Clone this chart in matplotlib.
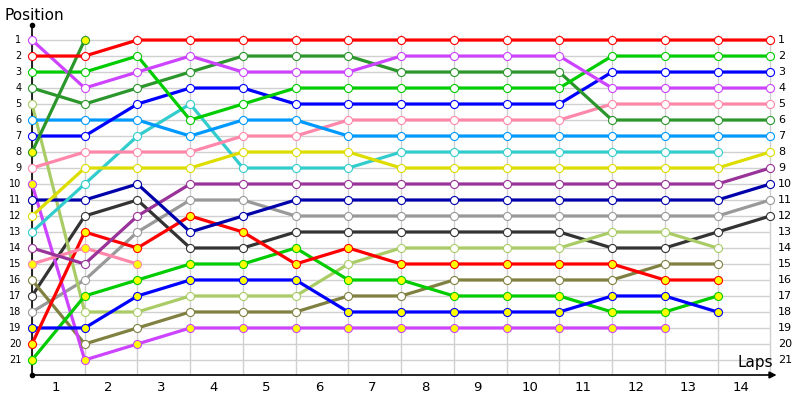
import matplotlib
matplotlib.use("Agg")
import matplotlib.pyplot as plt

# lap index 0 = grid, then laps 1..14
laps = list(range(15))
lap_labels = [str(k) for k in range(1, 15)]
positions = list(range(1, 22))

# positions per driver line (shorter lists = retired / lapped)
red1 = [2, 2, 1, 1, 1, 1, 1, 1, 1, 1, 1, 1, 1, 1, 1]
purple1 = [1, 4, 3, 2, 3, 3, 3, 2, 2, 2, 2, 4, 4, 4, 4]
green1 = [3, 3, 2, 6, 5, 4, 4, 4, 4, 4, 4, 2, 2, 2, 2]
dgreen1 = [4, 5, 4, 3, 2, 2, 2, 3, 3, 3, 3, 6, 6, 6, 6]
lolive = [5, 18, 18, 17, 17, 17, 15, 14, 14, 14, 14, 13, 13, 14]
lblue = [6, 6, 6, 7, 6, 6, 7, 7, 7, 7, 7, 7, 7, 7, 7]
blue1 = [7, 7, 5, 4, 4, 5, 5, 5, 5, 5, 5, 3, 3, 3, 3]
dgreen2 = [8, 1]
pink1 = [9, 8, 8, 8, 7, 7, 6, 6, 6, 6, 6, 5, 5, 5, 5]
purple2 = [10, 21, 20, 19, 19, 19, 19, 19, 19, 19, 19, 19, 19]
navy = [11, 11, 10, 13, 12, 11, 11, 11, 11, 11, 11, 11, 11, 11, 10]
yellow = [12, 9, 9, 9, 8, 8, 8, 9, 9, 9, 9, 9, 9, 9, 8]
cyan = [13, 10, 7, 5, 9, 9, 9, 8, 8, 8, 8, 8, 8, 8]
dpurple = [14, 15, 12, 10, 10, 10, 10, 10, 10, 10, 10, 10, 10, 10, 9]
pink2 = [15, 14, 15]
olive = [16, 20, 19, 18, 18, 18, 17, 17, 16, 16, 16, 16, 15, 15]
black = [17, 12, 11, 14, 14, 13, 13, 13, 13, 13, 13, 14, 14, 13, 12]
gray = [18, 16, 13, 11, 11, 12, 12, 12, 12, 12, 12, 12, 12, 12, 11]
blue2 = [19, 19, 17, 16, 16, 16, 18, 18, 18, 18, 18, 17, 17, 18]
red2 = [20, 13, 14, 12, 13, 15, 14, 15, 15, 15, 15, 15, 16, 16]
green2 = [21, 17, 16, 15, 15, 14, 16, 16, 17, 17, 17, 18, 18, 17]

series = [
    (gray, "#999999", "white"),
    (black, "#333333", "white"),
    (olive, "#808040", "white"),
    (lolive, "#aacc66", "white"),
    (purple2, "#cc44ff", "#ffff00"),
    (green2, "#00cc00", "#ffff00"),
    (blue2, "#0000ff", "#ffff00"),
    (red2, "#ff0000", "#ffff00"),
    (pink2, "#ff88aa", "#ffff00"),
    (dpurple, "#993399", "white"),
    (navy, "#0000aa", "white"),
    (cyan, "#33cccc", "white"),
    (yellow, "#dddd00", "white"),
    (pink1, "#ff88aa", "white"),
    (lblue, "#0099ff", "white"),
    (blue1, "#0000ff", "white"),
    (dgreen1, "#2b962b", "white"),
    (green1, "#00cc00", "white"),
    (purple1, "#cc44ff", "white"),
    (dgreen2, "#2b962b", "#ffff00"),
    (red1, "#ff0000", "white"),
]

fig = plt.figure(figsize=(8, 4), dpi=100)
ax = fig.add_axes([32 / 800, 25 / 400, 743 / 800, 350 / 400])
ax.set_xlim(0, 14.09)
ax.set_ylim(21.94, 0.06)
ax.axis("off")

# grid
ax.hlines(positions, 0, 14, color="#d0d0d0", lw=1, zorder=1)
ax.vlines(laps, 0.6, 21.94, color="#d0d0d0", lw=1, zorder=1)

# axes lines
ax.plot([0, 0], [0.06, 21.94], color="black", lw=1.2, zorder=2, clip_on=False)
ax.plot([0, 0], [0.06, 21.94], ls="none", marker="o", ms=3, color="black",
        zorder=2, clip_on=False)
ax.annotate("", xy=(14.12, 21.94), xytext=(0, 21.94),
            arrowprops=dict(arrowstyle="-|>", color="black", lw=1.2,
                            mutation_scale=10, shrinkA=0, shrinkB=0),
            annotation_clip=False, zorder=2)

for vals, col, fill in series:
    xs = laps[:len(vals)]
    ax.plot(xs, vals, color=col, lw=2.3, zorder=3, solid_capstyle="butt",
            clip_on=False)
    ax.plot(xs, vals, ls="none", marker="o", ms=5.8, mfc=fill, mec=col,
            mew=0.8, zorder=4, clip_on=False)

for p in positions:
    ax.text(-0.2, p, str(p), ha="right", va="center", fontsize=7,
            clip_on=False)
    ax.text(14.15, p, str(p), ha="left", va="center", fontsize=8,
            clip_on=False)

for k, lab in enumerate(lap_labels, start=1):
    ax.text(k - 0.55, 22.75, lab, ha="center", va="center", fontsize=9.5,
            clip_on=False)

fig.text(4 / 800, 1 - 15 / 400, "Position", ha="left", va="center", fontsize=11)
fig.text(773 / 800, 1 - 363 / 400, "Laps", ha="right", va="center", fontsize=11)

fig.savefig("out.png", dpi=100)
